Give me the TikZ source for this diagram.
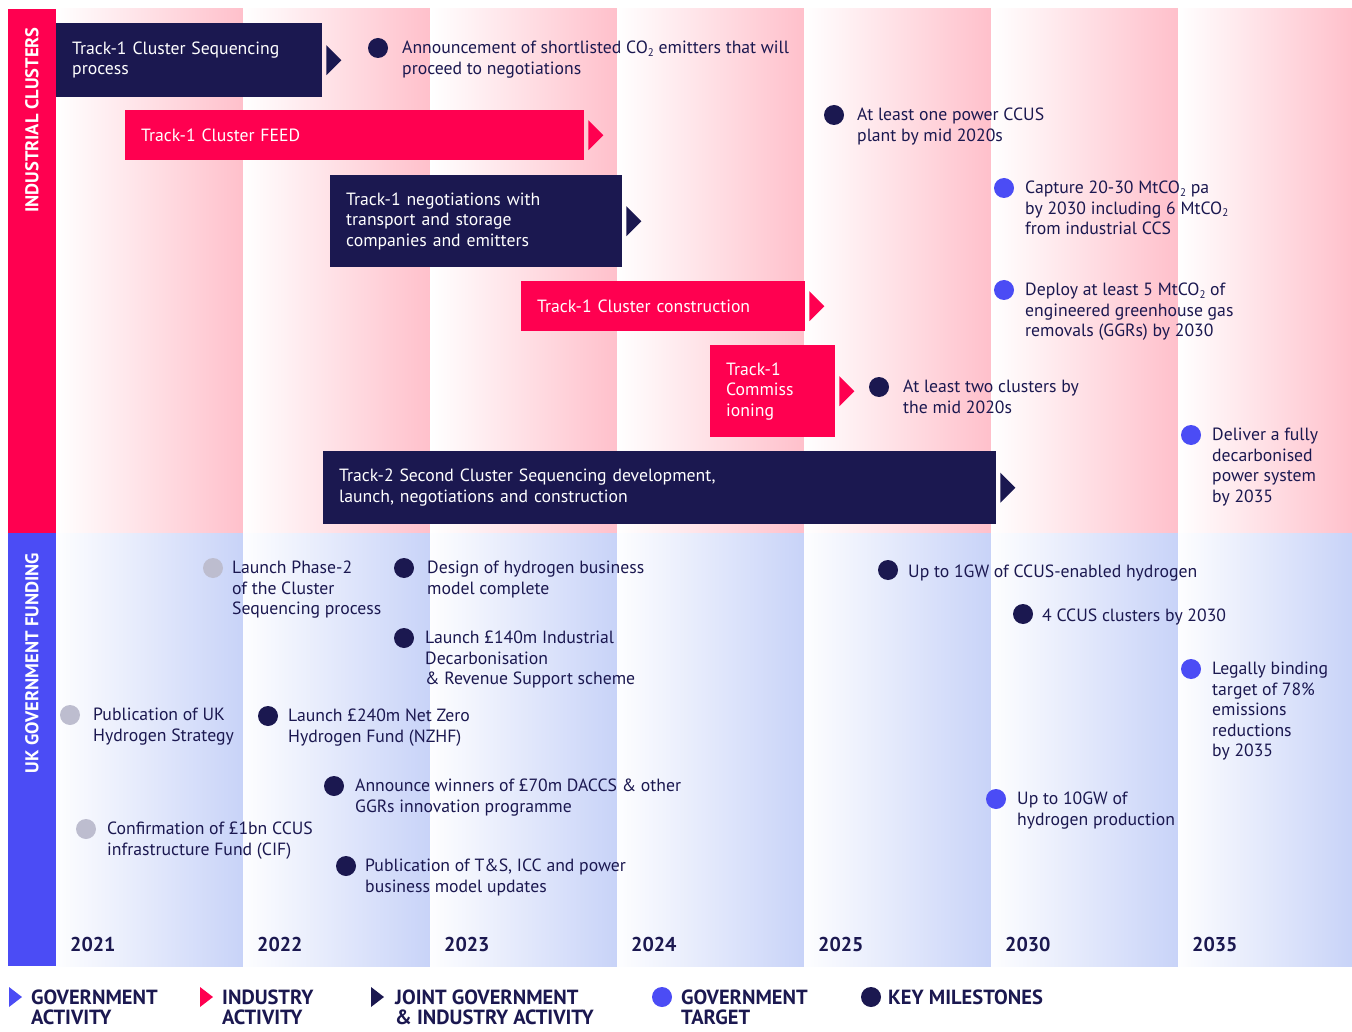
\documentclass[tikz,border=0pt]{standalone}
\usepackage{fontspec}
\setmainfont{PT Sans}
\usetikzlibrary{positioning}

\definecolor{navy}{HTML}{1B1850}
\definecolor{hotpink}{HTML}{FF0050}
\definecolor{govblue}{HTML}{4B4CF5}
\definecolor{lightgrey}{HTML}{BDBDCF}
\definecolor{pinkcol}{HTML}{FFC0CB}
\definecolor{bluecol}{HTML}{C8D3F8}

\newcommand\cotwo{CO\raisebox{-0.25ex}{\fontsize{11}{11}\selectfont 2}}
\newcommand\bartip[2]{\fill[#2] ([xshift=4pt]#1.east) ++(0,-15) -- ++(15,15) -- ++(-15,15) -- cycle;}

\tikzset{
  trackbar/.style={anchor=north west, inner xsep=16pt, inner ysep=0pt, align=left,
    text=white, font=\fontsize{17.7}{20.5}\selectfont},
  navybar/.style={trackbar, fill=navy},
  pinkbar/.style={trackbar, fill=hotpink},
  anydot/.style={circle, inner sep=0pt, minimum size=20pt},
  keydot/.style={anydot, fill=navy},
  targetdot/.style={anydot, fill=govblue},
  donedot/.style={anydot, fill=lightgrey},
  % text placed by its top left corner, first line starts with a strut
  dotlabel/.style={anchor=north west, inner sep=0pt, align=left, text=navy,
    font=\fontsize{17.7}{20.5}\selectfont, execute at begin node=\strut},
  yearlabel/.style={anchor=base west, inner sep=0pt, text=navy,
    font=\bfseries\fontsize{20}{20}\selectfont},
  sidelabel/.style={rotate=90, text=white, font=\bfseries\fontsize{18.5}{18.5}\selectfont},
  legendtext/.style={anchor=north west, inner sep=0pt, align=left, text=navy,
    font=\bfseries\fontsize{20.5}{20}\selectfont, execute at begin node=\strut}
}

\begin{document}
\begin{tikzpicture}[x=1pt,y=-1pt]
	\useasboundingbox[fill=white] (0,0) rectangle (1352,1032);

	% year columns
	\foreach \xa/\xb/\yr in {56/243/2021, 243/430/2022, 430/617/2023, 617/804/2024,
	  804/991/2025, 991/1178/2030, 1178/1352/2035}{
	  \shade[left color=white, right color=pinkcol] (\xa,9) rectangle (\xb,533);
	  \shade[left color=white!97!bluecol, right color=bluecol] (\xa,533) rectangle (\xb,966);
	  \node[yearlabel] (y\yr) at (\xa+14,951) {\yr};
	}

	% side bars
	\fill[hotpink] (8,9) rectangle (56,533);
	\fill[govblue] (8,533) rectangle (56,966);
	\node[sidelabel] (ind) at (32,120) {INDUSTRIAL CLUSTERS};
	\node[sidelabel] (gov) at (32,663) {UK GOVERNMENT FUNDING};

	% industrial clusters
	\node[navybar, text width=234pt, minimum height=74pt] (seq) at (56,23) {Track-1 Cluster Sequencing\\process};
	\bartip{seq}{navy}
	\node[pinkbar, text width=427pt, minimum height=50pt] (feed) at (125,110) {Track-1 Cluster FEED};
	\bartip{feed}{hotpink}
	\node[navybar, text width=260pt, minimum height=92pt] (nego) at (330,175) {Track-1 negotiations with\\transport and storage\\companies and emitters};
	\bartip{nego}{navy}
	\node[pinkbar, text width=252pt, minimum height=50pt] (build) at (521,281) {Track-1 Cluster construction};
	\bartip{build}{hotpink}
	\node[pinkbar, text width=93pt, minimum height=92pt] (comm) at (710,345) {Track-1\\Commiss\\ioning};
	\bartip{comm}{hotpink}
	\node[navybar, text width=641pt, minimum height=73pt] (second) at (323,451) {Track-2 Second Cluster Sequencing development,\\launch, negotiations and construction};
	\bartip{second}{navy}

	\node[keydot] (shortlist) at (378,48) {};
	\node[dotlabel] (shortlisttxt) at (402,41) {Announcement of shortlisted \cotwo{} emitters that will\\proceed to negotiations};
	\node[keydot] (power) at (834,115) {};
	\node[dotlabel] (powertxt) at (857,108) {At least one power CCUS\\plant by mid 2020s};
	\node[targetdot] (capture) at (1004,188) {};
	\node[dotlabel] (capturetxt) at (1025,181) {Capture 20-30 Mt\cotwo{} pa\\by 2030 including 6 Mt\cotwo\\from industrial CCS};
	\node[targetdot] (ggr) at (1004,290) {};
	\node[dotlabel] (ggrtxt) at (1025,283) {Deploy at least 5 Mt\cotwo{} of\\engineered greenhouse gas\\removals (GGRs) by 2030};
	\node[keydot] (twoclus) at (879,387) {};
	\node[dotlabel] (twoclustxt) at (903,380) {At least two clusters by\\the mid 2020s};
	\node[targetdot] (grid) at (1191,435) {};
	\node[dotlabel] (gridtxt) at (1212,428) {Deliver a fully\\decarbonised\\power system\\by 2035};

	% government funding
	\node[donedot] (phase) at (213,568) {};
	\node[dotlabel] (phasetxt) at (232,561) {Launch Phase-2\\of the Cluster\\Sequencing process};
	\node[keydot] (hbm) at (404,568) {};
	\node[dotlabel] (hbmtxt) at (427,561) {Design of hydrogen business\\model complete};
	\node[keydot] (idhrs) at (404,638) {};
	\node[dotlabel] (idhrstxt) at (425,631) {Launch £140m Industrial\\Decarbonisation\\\& Revenue Support scheme};
	\node[donedot] (strat) at (70,715) {};
	\node[dotlabel] (strattxt) at (93,708) {Publication of UK\\Hydrogen Strategy};
	\node[keydot] (nzhf) at (268,716) {};
	\node[dotlabel] (nzhftxt) at (288,709) {Launch £240m Net Zero\\Hydrogen Fund (NZHF)};
	\node[keydot] (daccs) at (334,786) {};
	\node[dotlabel] (daccstxt) at (355,779) {Announce winners of £70m DACCS \& other\\GGRs innovation programme};
	\node[donedot] (cif) at (86,829) {};
	\node[dotlabel] (ciftxt) at (107,822) {Confirmation of £1bn CCUS\\infrastructure Fund (CIF)};
	\node[keydot] (models) at (346,866) {};
	\node[dotlabel] (modelstxt) at (365,859) {Publication of T\&S, ICC and power\\business model updates};
	\node[keydot] (onegw) at (888,570) {};
	\node[dotlabel] (onegwtxt) at (908,563) {Up to 1GW of CCUS-enabled hydrogen};
	\node[keydot] (fourclus) at (1023,614) {};
	\node[dotlabel] (fourclustxt) at (1042,607) {4 CCUS clusters by 2030};
	\node[targetdot] (cut) at (1191,669) {};
	\node[dotlabel] (cuttxt) at (1212,662) {Legally binding\\target of 78\%\\emissions\\reductions\\by 2035};
	\node[targetdot] (tengw) at (996,799) {};
	\node[dotlabel] (tengwtxt) at (1017,792) {Up to 10GW of\\hydrogen production};

	% legend
	\fill[govblue] (9,987) -- (22,997) -- (9,1007) -- cycle;
	\node[legendtext] (lgov) at (31,990) {GOVERNMENT\\ACTIVITY};
	\fill[hotpink] (200,987) -- (213,997) -- (200,1007) -- cycle;
	\node[legendtext] (lind) at (222,990) {INDUSTRY\\ACTIVITY};
	\fill[navy] (371,987) -- (384,997) -- (371,1007) -- cycle;
	\node[legendtext] (ljoint) at (395,990) {JOINT GOVERNMENT\\\& INDUSTRY ACTIVITY};
	\node[targetdot] (ltgtdot) at (662,997) {};
	\node[legendtext] (ltgt) at (681,990) {GOVERNMENT\\TARGET};
	\node[keydot] (lkeydot) at (871,997) {};
	\node[legendtext] (lkey) at (888,990) {KEY MILESTONES};
\end{tikzpicture}
\end{document}
